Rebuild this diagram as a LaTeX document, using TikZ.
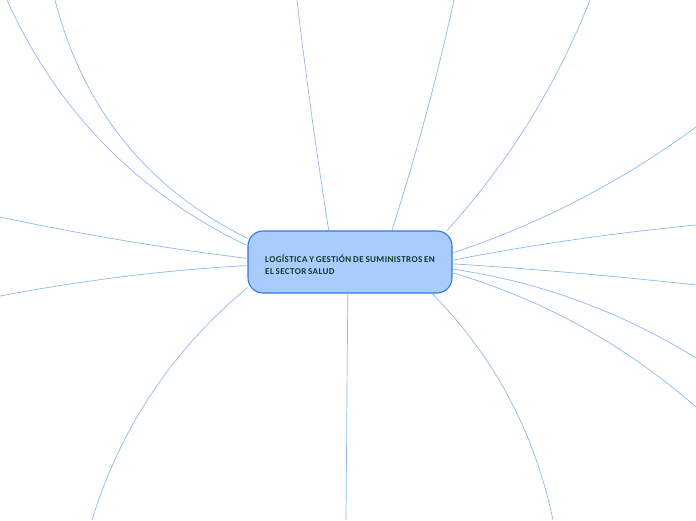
\documentclass[tikz,border=0pt]{standalone}
\usepackage{fontspec}
\setmainfont{Carlito}
\newfontfamily\topicfont[LetterSpace=4.5,WordSpace=0.75]{Carlito}
\usepackage{tikz}
\usetikzlibrary{positioning}

\definecolor{hubfill}{HTML}{A8CCFC}
\definecolor{hubdraw}{HTML}{3377DD}
\definecolor{hubtext}{HTML}{0B3B2C}
\definecolor{branchcol}{HTML}{8FB8F3}

\begin{document}
\begin{tikzpicture}[x=1pt,y=-1pt,
        topic/.style={draw=hubdraw,fill=hubfill,line width=1.1pt,rounded corners=15pt,
            minimum width=204pt,minimum height=62pt,align=left,
            font=\topicfont\fontsize{9}{12}\selectfont\bfseries,text=hubtext},
        branch/.style={draw=branchcol,line width=0.7pt}]
        \useasboundingbox (0,0) rectangle (696,520);

        \node[topic] (hub) at (350,262) {\rule{0pt}{13pt}LOGÍSTICA Y GESTIÓN DE SUMINISTROS EN\\EL SECTOR SALUD\hfill\mbox{}};

        % free ends of the branches
        \coordinate (tl1) at (7,0);
        \coordinate (tl2) at (55,0);
        \coordinate (l1) at (0,217);
        \coordinate (l2) at (0,296);
        \coordinate (bl) at (92,520);
        \coordinate (b) at (346,520);
        \coordinate (br) at (553,520);
        \coordinate (r1) at (696,285);
        \coordinate (r2) at (696,358);
        \coordinate (r3) at (696,407);
        \coordinate (r4) at (696,225);
        \coordinate (r5) at (696,127);
        \coordinate (tr) at (590,0);
        \coordinate (t1) at (454,0);
        \coordinate (t2) at (297,0);

        \path[branch] (hub.171) .. controls (137.7,193.3) and (57.3,111.3) .. (tl1);
        \path[branch] (hub.167) .. controls (148.3,189.3) and (83.3,109.7) .. (tl2);
        \path[branch] (hub.178) .. controls (165.3,248.3) and (82.7,234.7) .. (l1);
        \path[branch] (hub.182) .. controls (165.3,270) and (82.7,280.3) .. (l2);
        \path[branch] (hub.194.7) .. controls (173.9,348.8) and (120.9,426.1) .. (bl);
        \path[branch] (hub.266) -- (b);
        \path[branch] (hub.339.75) .. controls (494.9,357.5) and (534.5,432.9) .. (br);
        \path[branch] (hub.359) .. controls (534,269) and (615,276) .. (r1);
        \path[branch] (hub.356.6) .. controls (540,281.7) and (621,311.7) .. (r2);
        \path[branch] (hub.354.4) .. controls (543.6,299.7) and (624.6,344.7) .. (r3);
        \path[branch] (hub.1.7) .. controls (534,244.3) and (615,233) .. (r4);
        \path[branch] (hub.5) .. controls (540.5,223.7) and (621.5,181.7) .. (r5);
        \path[branch] (hub.18.3) .. controls (507.3,163.9) and (556,86.5) .. (tr);
        \path[branch] (hub.37.1) .. controls (416,155) and (437,78) .. (t1);
        \path[branch] (hub.124.1) .. controls (316.7,154) and (306,77) .. (t2);
\end{tikzpicture}
\end{document}
